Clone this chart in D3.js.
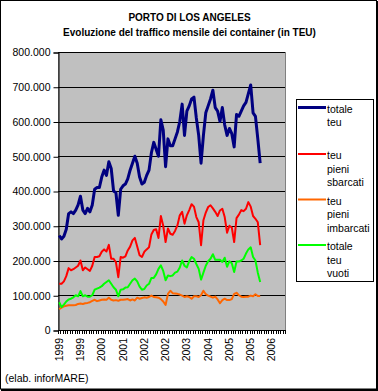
<!DOCTYPE html>
<html>
<head>
<meta charset="utf-8">
<script src="https://cdn.jsdelivr.net/npm/d3@7"></script>
<style>
  html, body { margin: 0; padding: 0; background: #fff; }
  svg { display: block; }
  text { font-family: "Liberation Sans", Arial, sans-serif; }
</style>
</head>
<body>
<svg id="chart" width="378" height="391"></svg>
<script>
// ---- DATA ----
const titleLines = ["PORTO DI LOS ANGELES", "Evoluzione del traffico mensile dei container (in TEU)"];
const sourceNote = "(elab. inforMARE)";
const categoryCount = 96;            // months Jan 1999 .. Dec 2006
const tickLabelEvery = 9;
const tickLabels = ["1999","1999","2000","2001","2002","2002","2003","2004","2005","2005","2006"];
const yTicks = [0,100000,200000,300000,400000,500000,600000,700000,800000];

// values in thousands of TEU, monthly from Jan 1999
const totaleTeu = [272,262,270,290,335,340,335,345,360,385,345,335,350,340,360,405,410,410,440,460,
  445,484,465,400,395,330,405,415,420,435,460,480,500,480,440,420,425,445,460,510,
  540,520,500,605,575,470,550,530,530,550,570,600,650,560,630,645,665,670,610,560,
  480,560,625,645,665,690,640,630,600,640,590,560,580,565,527,620,615,630,645,655,
  680,705,625,615,550,480];
const pieniSbarcati = [133,133,140,155,178,172,175,180,185,200,172,180,175,170,185,210,210,212,225,232,
  226,245,205,205,195,152,210,208,212,229,240,258,265,240,215,210,225,232,238,275,
  288,290,265,328,300,253,292,277,274,285,301,330,340,306,330,345,362,355,325,310,
  244,316,338,354,359,350,340,328,344,349,325,280,300,295,253,322,332,345,342,349,
  368,355,328,320,310,244];
const pieniImbarcati = [60,64,68,70,71,71,71,72,75,76,75,77,78,80,84,87,83,85,87,88,
  87,93,87,85,86,84,87,87,88,89,85,88,85,93,90,92,94,93,95,99,
  95,94,93,89,82,72,104,113,106,105,104,102,99,95,97,95,90,97,97,95,
  100,113,103,99,96,93,96,88,77,86,90,86,86,89,104,107,100,96,95,96,
  96,99,97,103,98,98];
const totaleVuoti = [80,66,73,82,88,90,94,100,97,112,97,100,96,96,100,116,119,122,126,133,
  138,143,133,123,116,97,116,117,122,123,133,143,148,140,125,116,118,128,133,150,
  150,160,176,186,170,143,157,155,157,165,168,180,200,185,180,198,210,205,190,176,
  145,165,185,198,205,218,202,202,202,196,208,182,198,192,167,197,197,200,205,220,
  232,238,210,200,165,138];

const seriesNames = [["totale","teu"],["teu","pieni","sbarcati"],["teu","pieni","imbarcati"],["totale","teu","vuoti"]];
const seriesColors = ["#000080","#FF0000","#FF6600","#00FF00"];
const seriesWidths = [3, 2, 2, 2];
const seriesData = [totaleTeu, pieniSbarcati, pieniImbarcati, totaleVuoti];

// ---- CHART ----
const svg = d3.select("#chart");
const plot = {left: 58, right: 285, top: 52, bottom: 330};

svg.append("rect").attr("x",0).attr("y",0).attr("width",378).attr("height",391).attr("fill","#fff");

// title
svg.selectAll("text.title").data(titleLines).enter().append("text")
  .attr("class","title")
  .attr("x", 189.5).attr("y", (d,i) => 21 + i*14.5)
  .attr("text-anchor","middle")
  .attr("font-size","10px").attr("font-weight","bold")
  .text(d => d);

const x = d3.scaleLinear().domain([0, categoryCount]).range([plot.left, plot.right]);
const y = d3.scaleLinear().domain([0, 800000]).range([plot.bottom, plot.top]);

// plot area
svg.append("rect").attr("x",plot.left).attr("y",plot.top)
  .attr("width",plot.right-plot.left).attr("height",plot.bottom-plot.top)
  .attr("fill","#C0C0C0").attr("stroke","#808080").attr("stroke-width",1)
  .attr("shape-rendering","crispEdges");

// gridlines
svg.append("g").selectAll("line").data(yTicks.slice(1)).enter().append("line")
  .attr("x1",plot.left).attr("x2",plot.right)
  .attr("y1",d => Math.round(y(d))+0.5).attr("y2",d => Math.round(y(d))+0.5)
  .attr("stroke","#000").attr("stroke-width",1);

// y axis
const loc = d3.formatLocale({decimal: ",", thousands: ".", grouping: [3], currency: ["",""]});
const fmt = loc.format(",");
const yAxis = d3.axisLeft(y).tickValues(yTicks).tickFormat(fmt).tickSize(5).tickPadding(3);
const gy = svg.append("g").attr("transform",`translate(${plot.left+0.5},0.5)`).call(yAxis);
gy.selectAll("text").attr("font-size","10.5px").attr("fill","#000")
  .attr("font-family","'Liberation Sans', Arial, sans-serif");
gy.select(".domain").attr("stroke","#000");
gy.selectAll(".tick line").attr("stroke","#000");

// x axis
const gx = svg.append("g");
gx.append("line").attr("x1",plot.left).attr("x2",plot.right+0.5)
  .attr("y1",plot.bottom+0.5).attr("y2",plot.bottom+0.5).attr("stroke","#000");
gx.selectAll("line.tk").data(d3.range(categoryCount+1)).enter().append("line")
  .attr("class","tk")
  .attr("x1",d => Math.round(x(d))+0.5).attr("x2",d => Math.round(x(d))+0.5)
  .attr("y1",plot.bottom).attr("y2",plot.bottom+4)
  .attr("stroke","#000");
gx.selectAll("text").data(tickLabels).enter().append("text")
  .attr("transform",(d,i) => `translate(${x(i*tickLabelEvery+0.5)+3.5},${plot.bottom+8}) rotate(-90)`)
  .attr("text-anchor","end")
  .attr("font-size","10.5px")
  .text(d => d);

// series lines
const line = d3.line().x((d,i) => x(i+0.5)).y(d => y(d*1000));
seriesData.forEach((s,k) => {
  svg.append("path").datum(s)
    .attr("d", line)
    .attr("fill","none")
    .attr("stroke", seriesColors[k])
    .attr("stroke-width", seriesWidths[k])
    .attr("stroke-linejoin","round");
});
// redraw order like Excel: blue at back? keep order

// legend
const lg = svg.append("g");
lg.append("rect").attr("x",296.5).attr("y",99.5).attr("width",77).attr("height",182)
  .attr("fill","#fff").attr("stroke","#000").attr("stroke-width",1);
const legendLineY = [107.5, 154, 199.5, 245];
seriesNames.forEach((names,k) => {
  lg.append("line").attr("x1",298).attr("x2",326)
    .attr("y1",legendLineY[k]).attr("y2",legendLineY[k])
    .attr("stroke",seriesColors[k]).attr("stroke-width",seriesWidths[k]);
  names.forEach((t,j) => {
    lg.append("text").attr("x",327).attr("y",legendLineY[k]+5 + j*13.7)
      .attr("font-size","10.5px").text(t);
  });
});

// source note
svg.append("text").attr("x",5).attr("y",382).attr("font-size","10.5px").text(sourceNote);

// outer frame
svg.append("rect").attr("x",0.5).attr("y",0.5).attr("width",376).attr("height",388.5)
  .attr("fill","none").attr("stroke","#000").attr("stroke-width",1);
svg.append("line").attr("x1",377.5).attr("x2",377.5).attr("y1",1).attr("y2",391).attr("stroke","#000");
svg.append("line").attr("x1",1).attr("x2",378).attr("y1",390).attr("y2",390).attr("stroke","#000").attr("stroke-width",2);
</script>
</body>
</html>
